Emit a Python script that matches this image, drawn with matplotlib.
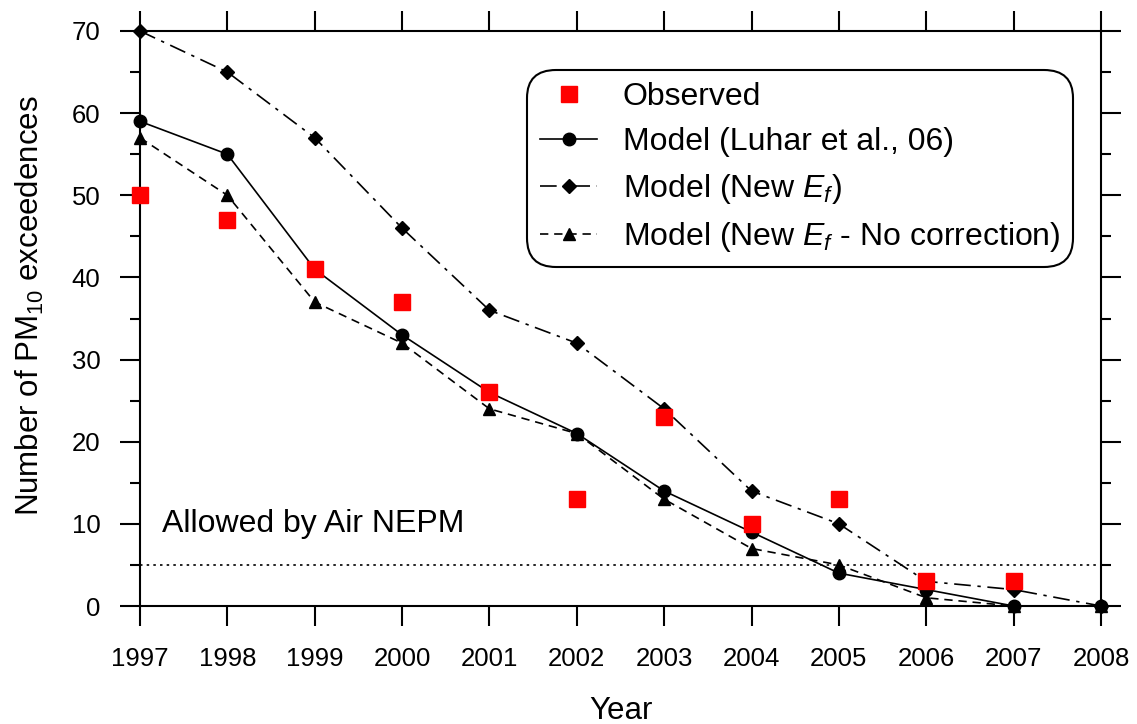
import matplotlib
matplotlib.use("Agg")
import matplotlib.pyplot as plt
from matplotlib.ticker import MultipleLocator

plt.rcParams['font.family'] = ['Liberation Sans', 'DejaVu Sans']
plt.rcParams['mathtext.fontset'] = 'custom'
plt.rcParams['mathtext.rm'] = 'Liberation Sans'
plt.rcParams['mathtext.it'] = 'Liberation Sans:italic'

# --- данные ---
years = [1997, 1998, 1999, 2000, 2001, 2002, 2003, 2004, 2005, 2006, 2007, 2008]
obs_years = [1997, 1998, 1999, 2000, 2001, 2002, 2003, 2004, 2005, 2006, 2007]
observed = [50, 47, 41, 37, 26, 13, 23, 10, 13, 3, 3]
model_luhar = [59, 55, 41, 33, 26, 21, 14, 9, 4, 2, 0, 0]
model_new_ef = [70, 65, 57, 46, 36, 32, 24, 14, 10, 3, 2, 0]
model_no_corr = [57, 50, 37, 32, 24, 21, 13, 7, 5, 1, 0, 0]
nepm_limit = 5

fig = plt.figure(figsize=(11.37, 7.24), dpi=100)
ax = fig.add_axes([140/1137, 1 - 606/724, (1101-140)/1137, (606-31)/724])

ax.axhline(nepm_limit, color='black', lw=1.2, ls=(0, (1.5, 2.5)), zorder=1)
ax.text(1997.25, 8.2, "Allowed by Air NEPM", fontsize=23, ha='left', va='bottom')

ax.plot(years, model_no_corr, color='black', lw=1.2, ls=(0, (5, 3.5)),
        marker='^', ms=8, clip_on=False, zorder=3,
        label="Model (New $E_f$ - No correction)")
ax.plot(years, model_new_ef, color='black', lw=1.2, ls=(0, (10, 4, 2, 4)),
        marker='D', ms=7, clip_on=False, zorder=3,
        label="Model (New $E_f$)")
ax.plot(years, model_luhar, color='black', lw=1.2, ls='-',
        marker='o', ms=9, clip_on=False, zorder=3,
        label="Model (Luhar et al., 06)")
ax.plot(obs_years, observed, ls='none', marker='s', ms=11.5, color='red',
        mec='red', clip_on=False, zorder=4, label="Observed")

ax.set_xlim(1997, 2008)
ax.set_ylim(0, 70)
ax.set_xticks(years)
ax.yaxis.set_major_locator(MultipleLocator(10))
ax.yaxis.set_minor_locator(MultipleLocator(5))

for sp in ax.spines.values():
    sp.set_linewidth(1.5)
ax.tick_params(which='both', direction='out', top=True, right=True, width=1.5)
ax.tick_params(which='major', length=14.5, labelsize=18.5)
ax.tick_params(axis='y', which='major', pad=14)
ax.tick_params(axis='x', which='major', pad=15)
ax.tick_params(which='minor', length=7)

ax.set_xlabel("Year", fontsize=22.5, labelpad=18)
ax.set_ylabel("Number of PM$_{10}$ exceedences", fontsize=22.5)
ax.yaxis.set_label_coords(-0.098, 0.522)

h, l = ax.get_legend_handles_labels()
order = [3, 2, 1, 0]
leg = ax.legend([h[i] for i in order], [l[i] for i in order],
                loc='upper right', bbox_to_anchor=(0.971, 0.933),
                borderaxespad=0, fontsize=23, numpoints=1, handlelength=1.8,
                handletextpad=0.8, labelspacing=0.46, borderpad=0.4,
                fancybox=True, framealpha=1, edgecolor='black')
leg.get_frame().set_linewidth(1.5)
leg.get_frame().set_boxstyle('round,pad=0.0,rounding_size=0.9')

fig.savefig("out.png", dpi=100)
